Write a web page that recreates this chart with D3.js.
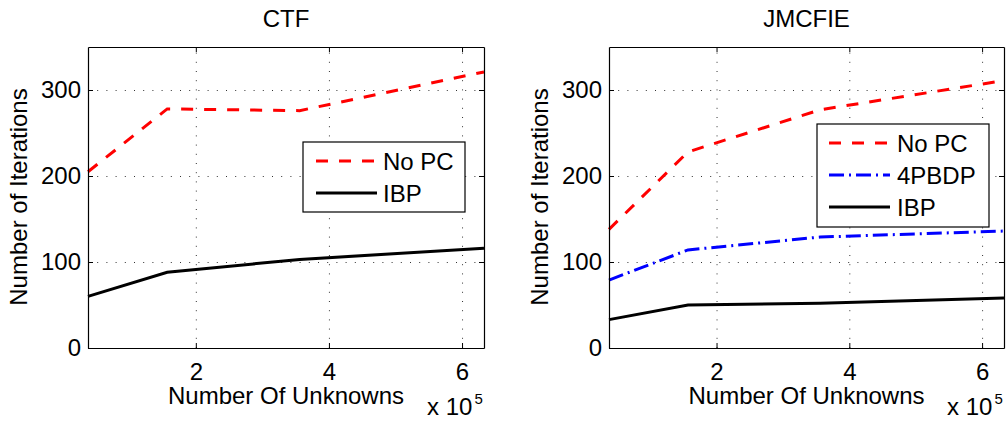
<!DOCTYPE html>
<html>
<head>
<meta charset="utf-8">
<script src="https://cdn.jsdelivr.net/npm/d3@7"></script>
<style>
  body { margin: 0; background: #fff; }
  svg { display: block; font-family: "Liberation Sans", Arial, Helvetica, sans-serif; }
</style>
</head>
<body>
<svg id="chart" width="1007" height="423"></svg>
<script>
// data, x in number of unknowns
const unknowns = [38000, 157000, 356000, 633000]
const ctfNoPC = [205, 278, 276, 321]
const ctfIBP = [60, 88, 103, 116]
const jmNoPC = [138, 228, 277, 311]
const jm4PBDP = [79, 114, 129, 136]
const jmIBP = [33, 50, 52, 58]
const xTicks = [200000, 400000, 600000]
const yTicks = [0, 100, 200, 300]

const styles = {
  'No PC': { color: '#ff0000', dash: '12,11' },
  '4PBDP': { color: '#0000ff', dash: '15,5,2,5' },
  'IBP': { color: '#000000', dash: null }
}

let svg = d3.select('#chart')

function panel (opt) {
  let x = d3.scaleLinear().domain([38000, 633000]).range([opt.left, opt.right])
  let y = d3.scaleLinear().domain([0, 350]).range([348, 47])
  let h = y.range()[0] - y.range()[1]
  let w = opt.right - opt.left
  let g = svg.append('g')

  // dotted grid
  g.append('g')
      .attr('transform', 'translate(0,348)')
      .call(d3.axisBottom(x).tickValues(xTicks).tickSize(-h).tickFormat(''))
      .call(s => s.select('.domain').remove())
      .selectAll('line')
      .attr('stroke', '#333').attr('stroke-dasharray', '1,8.2')
  g.append('g')
      .attr('transform', 'translate(' + opt.left + ',0)')
      .call(d3.axisLeft(y).tickValues(yTicks.slice(1)).tickSize(-w).tickFormat(''))
      .call(s => s.select('.domain').remove())
      .selectAll('line')
      .attr('stroke', '#333').attr('stroke-dasharray', '1,8.2')

  // lines
  let line = d3.line()
      .x((d, i) => x(unknowns[i]))
      .y(d => y(d))
  opt.series.forEach(function (s) {
    let st = styles[s.name]
    g.append('path')
        .datum(s.values)
        .attr('fill', 'none')
        .attr('stroke', st.color)
        .attr('stroke-width', 3)
        .attr('stroke-dasharray', st.dash)
        .attr('d', line)
  })

  // box and inward ticks (matlab style)
  let fs = '24px'
  g.append('g')
      .attr('transform', 'translate(0,348)')
      .call(d3.axisBottom(x).tickValues(xTicks).tickSizeInner(-5).tickSizeOuter(0)
        .tickPadding(15).tickFormat(d => d / 1e5))
  g.append('g')
      .attr('transform', 'translate(' + opt.left + ',0)')
      .call(d3.axisLeft(y).tickValues(yTicks).tickSizeInner(-5).tickSizeOuter(0)
        .tickPadding(7))
  g.append('g')
      .attr('transform', 'translate(0,47)')
      .call(d3.axisTop(x).tickValues(xTicks).tickSizeInner(-5).tickSizeOuter(0).tickFormat(''))
  g.append('g')
      .attr('transform', 'translate(' + opt.right + ',0)')
      .call(d3.axisRight(y).tickValues(yTicks).tickSizeInner(-5).tickSizeOuter(0).tickFormat(''))
  g.selectAll('g').attr('font-family', null).attr('font-size', null)
  g.selectAll('.domain').attr('stroke', '#000').attr('stroke-width', 1.2)
  g.selectAll('.tick text').attr('font-size', fs).attr('fill', '#000')

  // titles and labels
  let cx = (opt.left + opt.right) / 2
  g.append('text')
      .attr('x', cx).attr('y', 27)
      .attr('text-anchor', 'middle').attr('font-size', fs)
      .text(opt.title)
  g.append('text')
      .attr('x', cx).attr('y', 404)
      .attr('text-anchor', 'middle').attr('font-size', fs)
      .text('Number Of Unknowns')
  g.append('text')
      .attr('transform', 'translate(' + (opt.left - 61) + ',197) rotate(-90)')
      .attr('text-anchor', 'middle').attr('font-size', fs)
      .text('Number of Iterations')
  let ex = g.append('text')
      .attr('x', opt.right - 57).attr('y', 415)
      .attr('font-size', fs)
  ex.append('tspan').text('x 10')
  ex.append('tspan').attr('dy', -11).attr('dx', 2).attr('font-size', '15px').text('5')

  // legend
  let lg = g.append('g')
  lg.append('rect')
      .attr('x', opt.legend.x).attr('y', opt.legend.y)
      .attr('width', opt.legend.w).attr('height', opt.legend.h)
      .attr('fill', '#fff').attr('stroke', '#000').attr('stroke-width', 1.2)
  opt.series.forEach(function (s, i) {
    let st = styles[s.name]
    let ry = opt.legend.rows[i]
    lg.append('line')
        .attr('x1', opt.legend.x + opt.legend.lx0).attr('x2', opt.legend.x + opt.legend.lx1)
        .attr('y1', ry).attr('y2', ry)
        .attr('stroke', st.color).attr('stroke-width', 3)
        .attr('stroke-dasharray', st.dash)
    lg.append('text')
        .attr('x', opt.legend.x + opt.legend.tx).attr('y', ry + 8.5)
        .attr('font-size', fs)
        .text(s.name)
  })
}

panel({
  title: 'CTF',
  left: 88,
  right: 484,
  series: [
    { name: 'No PC', values: ctfNoPC },
    { name: 'IBP', values: ctfIBP }
  ],
  legend: { x: 303, y: 142, w: 162, h: 70, lx0: 13, lx1: 74, tx: 80, rows: [161, 193] }
})

panel({
  title: 'JMCFIE',
  left: 609,
  right: 1004,
  series: [
    { name: 'No PC', values: jmNoPC },
    { name: '4PBDP', values: jm4PBDP },
    { name: 'IBP', values: jmIBP }
  ],
  legend: { x: 817, y: 124, w: 172, h: 103, lx0: 12, lx1: 73, tx: 80, rows: [143, 175, 207] }
})
</script>
</body>
</html>
